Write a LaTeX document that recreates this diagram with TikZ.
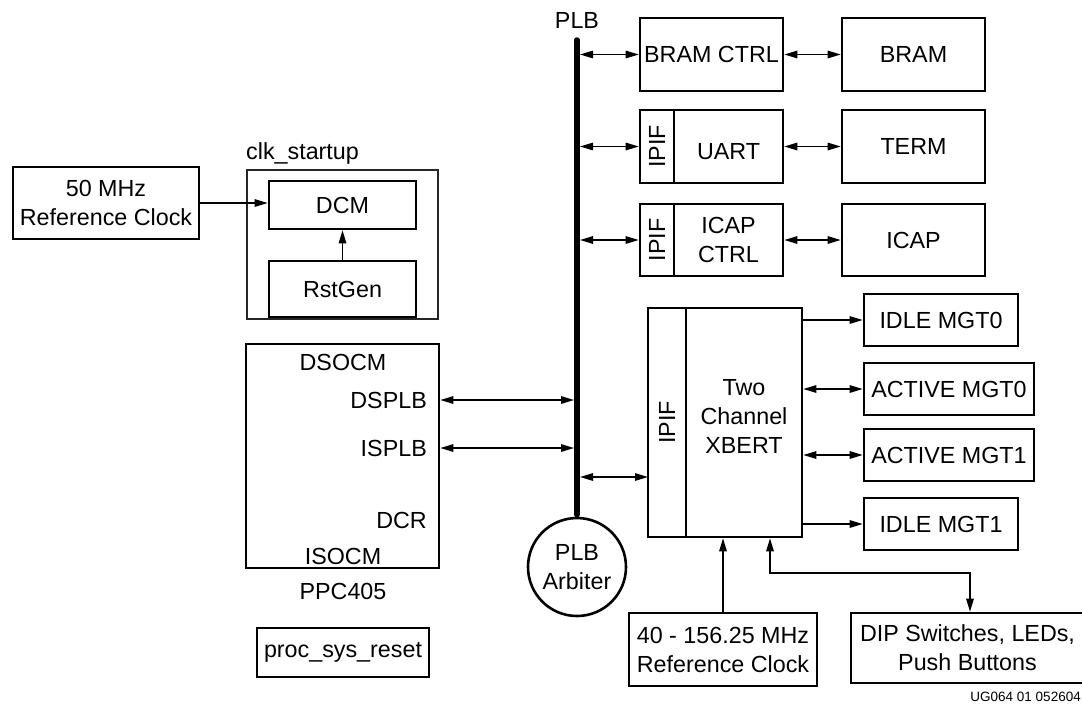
\documentclass[tikz,border=0pt]{standalone}
\usepackage{fontspec}
\setmainfont{Liberation Sans}
\usetikzlibrary{arrows.meta}
\newcommand\fsz{\fontsize{23.3}{29}\selectfont}
\begin{document}
\begin{tikzpicture}[x=1pt,y=-1pt,
  box/.style={draw, line width=2.6pt, inner sep=0pt, align=center, font=\fsz},
  txt/.style={inner sep=0pt, align=center, font=\fsz},
  arr/.style={line width=1.4pt, -{Triangle[length=13pt,width=7.5pt]}},
  dbl/.style={line width=1.4pt, {Triangle[length=13pt,width=7.5pt]}-{Triangle[length=13pt,width=7.5pt]}},
  thinbox/.style={draw=black!85, line width=1.2pt}]
\useasboundingbox (0,0) rectangle (1082,705);

% left side
\node[box, minimum width=186pt, minimum height=72pt] (ref50) at (106,203) {50 MHz\\Reference Clock};
\node[thinbox, minimum width=191pt, minimum height=149pt] (clkout) at (342.5,244.5) {};
\node[txt, anchor=west] (clklbl) at (246,153) {clk\_startup};
\node[box, minimum width=147pt, minimum height=48pt] (dcm) at (342.5,205) {DCM};
\node[box, minimum width=147pt, minimum height=56pt] (rst) at (342.5,289) {RstGen};
\draw[arr] (ref50.east) -- (ref50.east -| dcm.west);
\draw[arr] (rst.north) -- (dcm.south);

\node[box, minimum width=193pt, minimum height=224pt] (ppc) at (342.5,456) {};
\node[txt] (dsocm) at (343,362) {DSOCM};
\node[txt, anchor=east] (dsplb) at (427,400) {DSPLB};
\node[txt, anchor=east] (isplb) at (427,448) {ISPLB};
\node[txt, anchor=east] (dcr) at (427,520) {DCR};
\node[txt] (isocm) at (343,556) {ISOCM};
\node[txt] (ppclbl) at (343,591) {PPC405};
\node[box, minimum width=172pt, minimum height=49pt] (psr) at (343,652.5) {proc\_sys\_reset};

% bus
\node[txt] (plb) at (577,20) {PLB};
\coordinate (bus) at (577,40);
\node[draw, circle, line width=2.6pt, minimum size=98pt, inner sep=0pt, align=center, font=\fsz] (arb) at (577,567) {PLB\\Arbiter};
\draw[line width=5.5pt, line cap=round] (bus) -- ([yshift=2pt]arb.north);

\draw[dbl, shorten >=3pt] (dsplb.east -| ppc.east) -- (dsplb.east -| bus);
\draw[dbl, shorten >=3pt] (isplb.east -| ppc.east) -- (isplb.east -| bus);

% right column
\node[box, minimum width=143pt, minimum height=73pt] (bramctrl) at (711.5,54.5) {BRAM CTRL};
\node[box, minimum width=143pt, minimum height=73pt] (bram) at (913.5,54.5) {BRAM};
\node[box, minimum width=34pt, minimum height=73pt] (uipif) at (657,146.5) {\rotatebox{90}{IPIF}};
\node[box, minimum width=109pt, minimum height=73pt] (uart) at (728.5,146.5) {};
\node[txt] (uarttxt) at (728.5,152) {UART};
\node[box, minimum width=143pt, minimum height=73pt] (term) at (913.5,146.5) {TERM};
\node[box, minimum width=34pt, minimum height=72pt] (iipif) at (657,240) {\rotatebox{90}{IPIF}};
\node[box, minimum width=109pt, minimum height=72pt] (icapctrl) at (728.5,240) {ICAP\\CTRL};
\node[box, minimum width=143pt, minimum height=72pt] (icap) at (913.5,240) {ICAP};

\draw[dbl, shorten <=3pt] (bramctrl.west -| bus) -- (bramctrl.west);
\draw[dbl, shorten <=3pt] (uipif.west -| bus) -- (uipif.west);
\draw[dbl, shorten <=3pt] (iipif.west -| bus) -- (iipif.west);
\draw[dbl] (bramctrl.east) -- (bram.west);
\draw[dbl] (uart.east) -- (term.west);
\draw[dbl] (icapctrl.east) -- (icap.west);

% XBERT
\node[box, minimum width=38pt, minimum height=229pt] (xipif) at (667,422.5) {\rotatebox{90}{IPIF}};
\node[box, minimum width=116pt, minimum height=229pt] (xbert) at (744,422.5) {};
\node[txt] (xberttxt) at (744,416) {Two\\Channel\\XBERT};
\coordinate (xin) at (648,477);
\draw[dbl, shorten <=3pt] (xin -| bus) -- (xin);

\node[box, minimum width=154pt, minimum height=52pt] (idle0) at (941,320) {IDLE MGT0};
\node[box, minimum width=170pt, minimum height=52pt] (act0) at (949,389) {ACTIVE MGT0};
\node[box, minimum width=170pt, minimum height=52pt] (act1) at (949,455) {ACTIVE MGT1};
\node[box, minimum width=154pt, minimum height=52pt] (idle1) at (941,524) {IDLE MGT1};
\draw[arr] (idle0.west -| xbert.east) -- (idle0.west);
\draw[dbl] (act0.west -| xbert.east) -- (act0.west);
\draw[dbl] (act1.west -| xbert.east) -- (act1.west);
\draw[arr] (idle1.west -| xbert.east) -- (idle1.west);

\node[box, minimum width=188pt, minimum height=73pt] (clk40) at (723,649.5) {40 - 156.25 MHz\\Reference Clock};
\node[box, minimum width=233pt, minimum height=70pt] (dip) at (967.5,648) {DIP Switches, LEDs,\\Push Buttons};
\draw[arr] (clk40.north) -- (clk40.north |- xbert.south);
\coordinate (bend) at (770,573);
\draw[dbl] (bend |- xbert.south) -- (bend) -| ([xshift=2.5pt]dip.north);

\node[inner sep=0pt, anchor=east, font=\fontsize{13.5}{15}\selectfont] (note) at (1081,697) {UG064 01 052604};
\end{tikzpicture}
\end{document}
